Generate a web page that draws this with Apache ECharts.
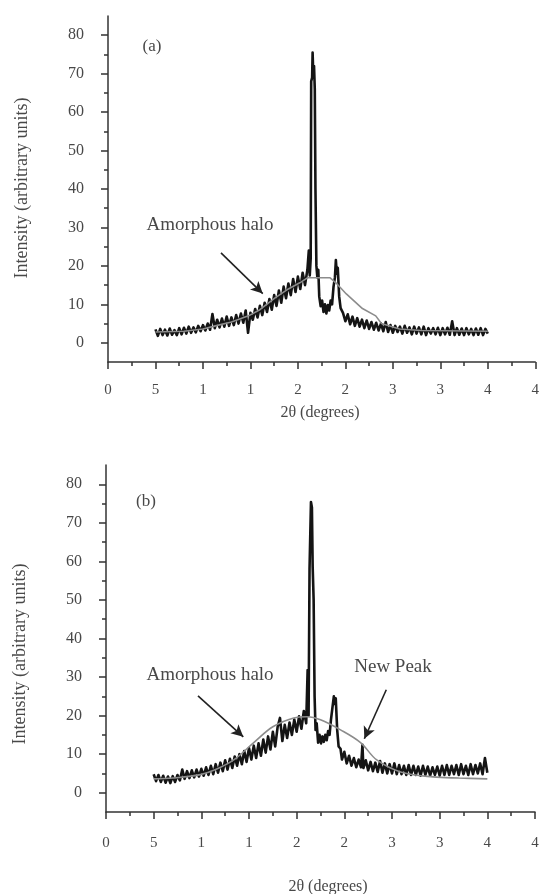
<!DOCTYPE html>
<html>
<head>
<meta charset="utf-8">
<script src="https://cdn.jsdelivr.net/npm/echarts@6/dist/echarts.min.js"></script>
<style>html,body{margin:0;padding:0;background:#fff}#c{width:542px;height:894px}</style>
</head>
<body>
<div id="c"></div>
<script>
// ---------- DATA ----------
const xTickLabels = ['0','5','1','1','2','2','3','3','4','4'];
const yTicks = [0,10,20,30,40,50,60,70,80];
const yMinorTicks = [5,15,25,35,45,55,65,75];

// Panel (a): measured trace
const xA = [
  5,5.25,5.5,5.75,6,6.25,6.5,6.75,7,7.25,7.5,7.75,8,8.25,8.5,8.75,
  9,9.25,9.5,9.75,10,10.25,10.5,10.75,11,11.25,11.5,11.75,12,12.25,12.5,12.75,
  13,13.25,13.5,13.75,14,14.25,14.5,14.75,15,15.25,15.5,15.75,16,16.25,16.5,16.75,
  17,17.25,17.5,17.75,18,18.25,18.5,18.75,19,19.25,19.5,19.75,20,20.25,20.5,20.75,
  21,21.15,21.25,21.35,21.4,21.5,21.55,21.62,21.7,21.78,21.85,21.95,
  22.05,22.15,22.25,22.4,22.55,22.7,22.85,23,23.15,23.3,23.45,23.6,23.75,23.9,24,24.1,24.2,24.35,24.5,24.75,
  25,25.25,25.5,25.75,26,26.25,26.5,26.75,27,27.25,27.5,27.75,28,28.25,28.5,28.75,
  29,29.25,29.5,29.75,30,30.25,30.5,30.75,31,31.25,31.5,31.75,32,32.25,32.5,32.75,
  33,33.25,33.5,33.75,34,34.25,34.5,34.75,35,35.25,35.5,35.75,36,36.25,36.5,36.75,
  37,37.25,37.5,37.75,38,38.25,38.5,38.75,39,39.25,39.5,39.75,40
];
const yA = [
  3.5,1.8,3.6,2.0,3.4,1.9,3.7,2.1,3.3,2.0,3.8,2.2,3.9,2.4,4.2,2.6,
  4.0,2.7,4.4,3.0,4.6,3.2,5.0,3.4,7.5,3.8,6.0,4.0,6.3,4.2,6.8,4.4,
  6.6,4.6,7.2,5.0,7.6,5.2,8.4,2.6,7.8,6.0,8.8,6.6,9.6,7.2,10.4,8.0,
  11.4,8.6,12.4,9.6,13.6,10.4,14.6,11.6,15.4,12.4,16.6,13.2,17.2,14.0,18.2,15.0,
  19.0,24.0,17.5,22,68,69,75.5,70,72,66,40,20,
  17,19,12,9.5,11,8,10,7.6,9.8,8.4,11,10,14.5,17,21.5,18,19.5,12,9,7.8,
  5.6,7.4,4.8,6.8,4.4,6.4,4.2,6.0,3.8,5.8,3.6,5.4,3.4,5.2,3.2,5.0,
  3.0,5.4,2.8,4.6,2.6,4.4,2.8,4.2,2.4,4.4,2.6,4.0,2.2,4.2,2.4,4.0,
  2.2,4.2,2.0,3.8,2.4,3.8,2.2,3.9,2.0,3.8,2.2,3.9,2.1,5.6,2.0,3.8,
  2.1,3.7,2.0,3.8,2.2,3.6,2.0,3.7,2.1,3.8,2.0,3.6,2.4
];
// Panel (a): amorphous halo fit
const hxA = [5,8,10,11.3,13,14.8,16,17.6,19,20.2,21,23.4,24,25.1,26.8,28.2,28.8,30.7,33,40];
const hyA = [2.8,3.0,3.6,4.4,5.4,7.0,8.6,11.7,14.0,15.6,16.9,16.9,15.6,12.7,8.9,7.0,5.0,3.6,3.2,3.0];

// Panel (b): measured trace
const xB = [
  5,5.25,5.5,5.75,6,6.25,6.5,6.75,7,7.25,7.5,7.75,8,8.25,8.5,8.75,
  9,9.25,9.5,9.75,10,10.25,10.5,10.75,11,11.25,11.5,11.75,12,12.25,12.5,12.75,
  13,13.25,13.5,13.75,14,14.25,14.5,14.75,15,15.25,15.5,15.75,16,16.25,16.5,16.75,
  17,17.25,17.5,17.75,18,18.25,18.5,18.75,19,19.25,19.5,19.75,20,20.25,20.5,20.75,
  21,21.15,21.25,21.35,21.45,21.5,21.6,21.68,21.78,21.88,21.98,
  22.1,22.25,22.4,22.55,22.7,22.85,23,23.15,23.3,23.45,23.6,23.75,23.9,24,24.1,24.25,24.4,24.6,24.75,
  25,25.25,25.5,25.75,26,26.25,26.5,26.75,26.9,27,27.25,27.5,27.75,28,28.25,28.5,28.75,
  29,29.25,29.5,29.75,30,30.25,30.5,30.75,31,31.25,31.5,31.75,32,32.25,32.5,32.75,
  33,33.25,33.5,33.75,34,34.25,34.5,34.75,35,35.25,35.5,35.75,36,36.25,36.5,36.75,
  37,37.25,37.5,37.75,38,38.25,38.5,38.75,39,39.25,39.5,39.75,40
];
const yB = [
  4.8,3.0,4.6,2.8,4.4,2.6,4.2,2.5,4.3,2.8,4.6,3.2,6.0,3.6,5.6,3.8,
  5.8,4.0,6.0,4.2,6.2,4.4,6.6,4.6,7.0,4.8,7.4,5.2,7.8,5.6,8.4,6.0,
  8.8,6.4,9.4,7.0,10.0,7.4,10.8,8.0,11.6,8.6,12.2,9.0,12.8,9.6,13.8,10.4,
  14.6,11.2,15.8,12.0,17.0,19.4,13.4,17.6,14.2,18.2,15.0,19.0,15.8,19.8,16.6,21.2,
  18.0,31.8,20,58,58.5,75.4,74,58.5,50,25,16.3,
  18,13,15,12.8,14.6,13.2,15,13.6,16,15,19,22,25,23,24.5,16.3,12,11.4,8.6,
  10.6,7.6,9.6,7.0,9.0,6.6,8.6,6.6,12.4,6.4,8.4,5.8,8.0,5.6,7.8,5.4,8.2,
  5.2,7.6,5.0,7.4,5.0,7.6,4.8,7.2,4.8,7.0,4.6,7.2,4.6,7.0,4.6,6.8,
  4.4,7.0,4.6,6.8,4.4,6.6,4.6,6.8,4.4,7.0,4.6,7.2,4.6,7.0,4.8,7.2,
  4.6,7.4,4.8,7.0,4.6,7.4,4.8,7.2,5.0,7.6,4.8,9.0,5.2
];
// Panel (b): amorphous halo fit
const hxB = [5,7,9.9,11.5,13.4,15.5,17.5,19.7,21.1,22.5,24.6,26.7,28.4,30.9,34.3,37,40];
const hyB = [3.6,3.8,4.7,6.0,8.5,13.0,17.1,19.4,19.7,18.9,16.3,13.0,8.5,5.4,4.1,3.8,3.6];

// Annotation arrows (data coordinates: [from], [to])
const arrowsA = [[[11.9,23.4],[16.3,12.8]]];
const arrowsB = [[[9.65,25.1],[14.4,14.5]], [[29.4,26.7],[27.1,14.0]]];

// ---------- CHART ----------
const SERIF = "'Liberation Serif','Times New Roman',serif";
const AX = '#333';
const TX = '#484848';
const pairs = (xs, ys) => xs.map((x, i) => [x, ys[i]]);

function xAxisFor(gi, margin) {
  return {
    gridIndex: gi, type: 'value', min: 0, max: 45, interval: 5,
    axisLine: { show: true, onZero: false, lineStyle: { color: AX, width: 1.5 } },
    axisTick: { show: true, length: 7, lineStyle: { color: AX, width: 1.5 } },
    minorTick: { show: true, splitNumber: 2, length: 4, lineStyle: { color: AX, width: 1.5 } },
    axisLabel: { margin: margin, fontSize: 15, color: TX, fontFamily: SERIF,
      formatter: v => xTickLabels[Math.round(v / 5)] },
    splitLine: { show: false }, minorSplitLine: { show: false }
  };
}
function yAxesFor(gi) {
  return [
    { gridIndex: gi, type: 'value', position: 'left', min: -5, max: 85,
      axisLine: { show: true, onZero: false, lineStyle: { color: AX, width: 1.5 } },
      axisTick: { show: true, customValues: yTicks, length: 7, lineStyle: { color: AX, width: 1.5 } },
      axisLabel: { customValues: yTicks, margin: 24, fontSize: 16, color: TX, fontFamily: SERIF },
      splitLine: { show: false } },
    { gridIndex: gi, type: 'value', position: 'left', offset: 0, min: -5, max: 85,
      axisLine: { show: false, onZero: false },
      axisTick: { show: true, customValues: yMinorTicks, length: 4, lineStyle: { color: AX, width: 1.5 } },
      axisLabel: { show: false },
      splitLine: { show: false } }
  ];
}
function arrowLines(list) {
  return {
    silent: true, symbol: ['none', 'arrow'], symbolSize: [9, 12],
    lineStyle: { color: '#222', width: 1.6, type: 'solid' },
    label: { show: false },
    data: list.map(a => [{ coord: a[0] }, { coord: a[1] }])
  };
}
const txt = (text, x, y, size, rot) => ({
  type: 'text', x: x, y: y, rotation: rot || 0, silent: true,
  style: { text: text, font: size + 'px ' + SERIF, fill: TX, textAlign: 'center', textVerticalAlign: 'middle' }
});

const chart = echarts.init(document.getElementById('c'), null, { renderer: 'canvas' });
chart.setOption({
  animation: false,
  backgroundColor: '#fff',
  grid: [
    { left: 108, top: 16, width: 428, height: 346 },
    { left: 106, top: 465, width: 429, height: 347 }
  ],
  xAxis: [xAxisFor(0, 21), xAxisFor(1, 24)],
  yAxis: [...yAxesFor(0), ...yAxesFor(1)],
  series: [
    { type: 'line', xAxisIndex: 0, yAxisIndex: 0, data: pairs(xA, yA), showSymbol: false,
      lineStyle: { color: '#141414', width: 2.6, join: 'round' }, z: 3 },
    { type: 'line', xAxisIndex: 0, yAxisIndex: 0, data: pairs(hxA, hyA), showSymbol: false,
      lineStyle: { color: '#8c8c8c', width: 1.6 }, z: 4, markLine: arrowLines(arrowsA) },
    { type: 'line', xAxisIndex: 1, yAxisIndex: 2, data: pairs(xB, yB), showSymbol: false,
      lineStyle: { color: '#141414', width: 2.6, join: 'round' }, z: 3 },
    { type: 'line', xAxisIndex: 1, yAxisIndex: 2, data: pairs(hxB, hyB), showSymbol: false, smooth: 0.35,
      lineStyle: { color: '#8c8c8c', width: 1.6 }, z: 4, markLine: arrowLines(arrowsB) }
  ],
  graphic: [
    txt('(a)', 152, 47, 17),
    txt('Amorphous halo', 210, 225, 19),
    txt('Intensity (arbitrary units)', 22, 188, 18, Math.PI / 2),
    txt('2θ (degrees)', 320, 413, 16),
    txt('(b)', 146, 502, 17),
    txt('Amorphous halo', 210, 675, 19),
    txt('New Peak', 393, 667, 19),
    txt('Intensity (arbitrary units)', 20, 654, 18, Math.PI / 2),
    txt('2θ (degrees)', 328, 887, 16)
  ]
});
</script>
</body>
</html>
